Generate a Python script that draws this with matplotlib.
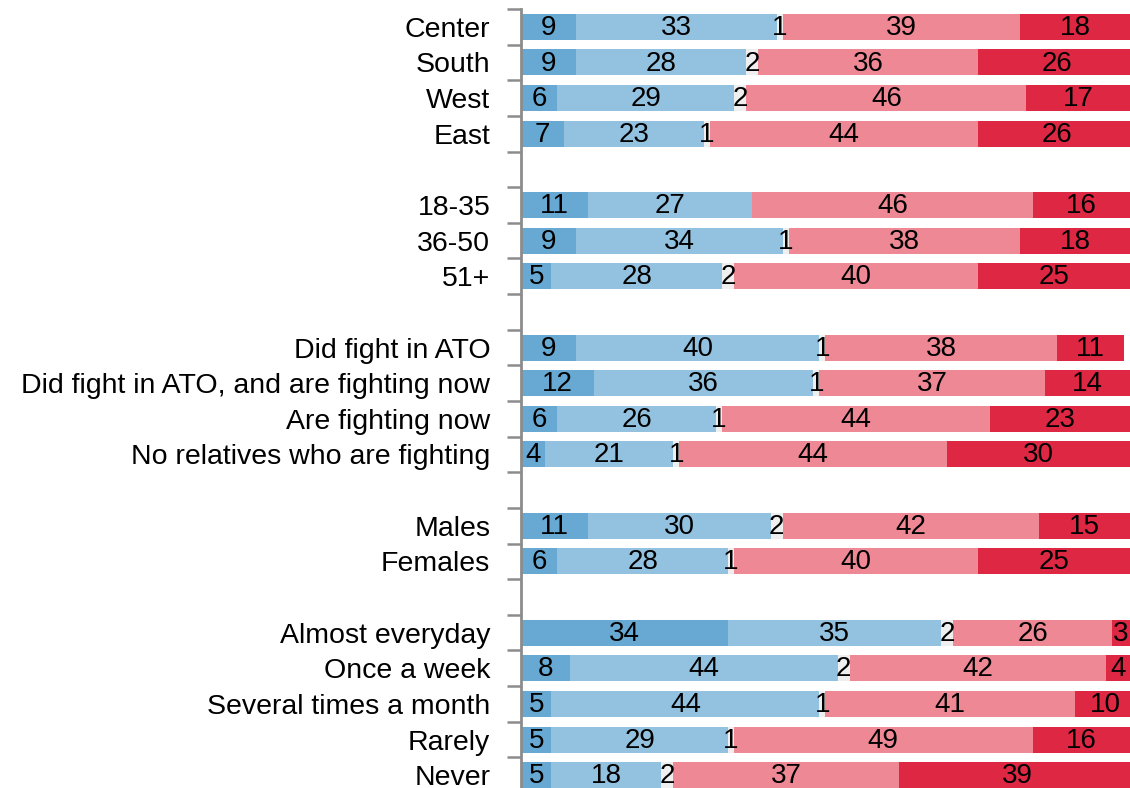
import numpy as np
import matplotlib
matplotlib.use('Agg')
import matplotlib.pyplot as plt

plt.rcParams['font.family'] = ['Liberation Sans Narrow', 'Liberation Sans', 'DejaVu Sans']

# ---------------------------------------------------------------------------
# Data (percent shares per group, top to bottom; None marks a spacer row)
# ---------------------------------------------------------------------------

labels = [
    'Center', 'South', 'West', 'East', None,
    '18-35', '36-50', '51+', None,
    'Did fight in ATO', 'Did fight in ATO, and are fighting now',
    'Are fighting now', 'No relatives who are fighting', None,
    'Males', 'Females', None,
    'Almost everyday', 'Once a week', 'Several times a month', 'Rarely', 'Never',
]

dark_blue  = [9, 9, 6, 7, None, 11, 9, 5, None, 9, 12, 6, 4, None, 11, 6, None, 34, 8, 5, 5, 5]
light_blue = [33, 28, 29, 23, None, 27, 34, 28, None, 40, 36, 26, 21, None, 30, 28, None, 35, 44, 44, 29, 18]
neutral    = [1, 2, 2, 1, None, 0, 1, 2, None, 1, 1, 1, 1, None, 2, 1, None, 2, 2, 1, 1, 2]
pink       = [39, 36, 46, 44, None, 46, 38, 40, None, 38, 37, 44, 44, None, 42, 40, None, 26, 42, 41, 49, 37]
red        = [18, 26, 17, 26, None, 16, 18, 25, None, 11, 14, 23, 30, None, 15, 25, None, 3, 4, 10, 16, 39]

series = [dark_blue, light_blue, neutral, pink, red]
colors = ['#67a9d3', '#93c1e0', '#efefef', '#ee8895', '#de2843']

# ---------------------------------------------------------------------------
# Plot
# ---------------------------------------------------------------------------

fig = plt.figure(figsize=(11.3, 7.88), dpi=100)
ax = fig.add_axes([0.461, -0.0063, 0.539, 0.9949])

n = len(labels)
y = np.arange(n)
left = np.zeros(n)

for vals, col in zip(series, colors):
    v = np.array([0 if x is None else x for x in vals], dtype=float)
    ax.barh(y, v, left=left, height=0.73, color=col, edgecolor='none')
    for yi, (xv, lo) in enumerate(zip(vals, left)):
        if xv:
            ax.text(lo + xv / 2, yi + 0.03, str(xv), ha='center', va='center',
                    fontsize=20, color='black')
    left += v

ax.set_xlim(0, 100)
ax.set_ylim(n - 0.5, -0.5)

ax.set_yticks(y)
ax.set_yticklabels(['' if l is None else l for l in labels], fontsize=20.5)
ax.set_yticks(np.arange(n + 1) - 0.5, minor=True)
ax.tick_params(axis='y', which='major', length=0, pad=22)
ax.tick_params(axis='y', which='minor', length=10, width=1.8, color='#8c8c8c')
ax.set_xticks([])

for side in ('top', 'right', 'bottom'):
    ax.spines[side].set_visible(False)
ax.spines['left'].set_color('#8c8c8c')
ax.spines['left'].set_linewidth(2)

fig.savefig('out.png', dpi=100)
